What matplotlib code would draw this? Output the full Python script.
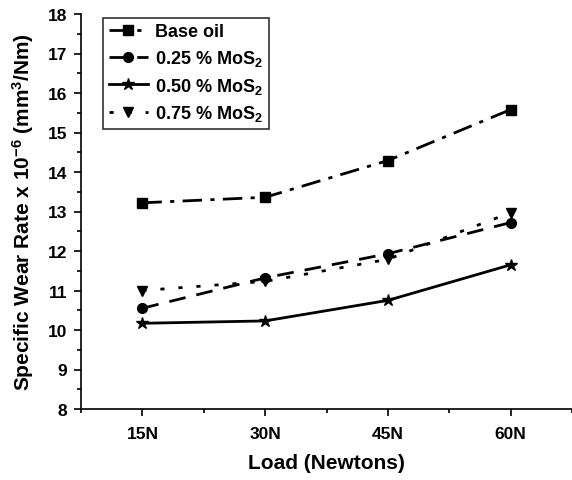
import numpy as np
import matplotlib
matplotlib.use('Agg')
import matplotlib.pyplot as plt
from matplotlib.ticker import MultipleLocator, FixedLocator

plt.rcParams['font.family'] = ['Liberation Sans', 'DejaVu Sans']
plt.rcParams['font.weight'] = 'bold'
plt.rcParams['mathtext.fontset'] = 'custom'
plt.rcParams['mathtext.rm'] = 'Liberation Sans:bold'
plt.rcParams['mathtext.bf'] = 'Liberation Sans:bold'
plt.rcParams['mathtext.it'] = 'Liberation Sans:bold'
plt.rcParams['mathtext.default'] = 'bf'

loads = ['15N', '30N', '45N', '60N']
base_oil = [13.22, 13.36, 14.29, 15.58]
mos2_025 = [10.55, 11.32, 11.93, 12.72]
mos2_050 = [10.17, 10.23, 10.75, 11.65]
mos2_075 = [11.00, 11.23, 11.79, 12.97]
y_ticks = list(range(8, 19))

x = np.arange(1, len(loads) + 1)

fig = plt.figure(figsize=(5.72, 4.81), dpi=100)
ax = fig.add_axes([81 / 572, 1 - 410 / 481, 1 - 81 / 572, (410 - 15) / 481])

ax.plot(x, base_oil, color='black', lw=2, ls=(0, (7, 3, 1.5, 3)), marker='s', ms=7,
        label='Base oil')
ax.plot(x, mos2_025, color='black', lw=2, ls=(0, (6, 4)), marker='o', ms=7,
        label='0.25 % MoS$_2$')
ax.plot(x, mos2_050, color='black', lw=2, ls='-', marker='*', ms=9,
        label='0.50 % MoS$_2$')
ax.plot(x, mos2_075, color='black', lw=2, ls=(0, (1.5, 5)), marker='v', ms=7,
        label='0.75 % MoS$_2$')

ax.set_xlim(0.5, 4.5)
ax.set_ylim(8, 18)
ax.set_xticks(x)
ax.set_xticklabels(loads, fontweight='bold')
ax.xaxis.set_minor_locator(FixedLocator([0.5, 1.5, 2.5, 3.5, 4.5]))
ax.set_yticks(y_ticks)
ax.set_yticklabels([str(v) for v in y_ticks], fontweight='bold')
ax.yaxis.set_minor_locator(MultipleLocator(0.5))

ax.spines['top'].set_visible(False)
ax.spines['right'].set_visible(False)
for s in ('left', 'bottom'):
    ax.spines[s].set_linewidth(1.2)
ax.tick_params(which='major', direction='out', length=5, width=1.2, labelsize=12.5)
ax.tick_params(axis='x', which='major', pad=7)
ax.tick_params(axis='y', which='major', pad=5)
ax.tick_params(which='minor', direction='out', length=3, width=1.2)

ax.set_xlabel('Load (Newtons)', fontsize=15, fontweight='bold', labelpad=9)
ax.set_ylabel('Specific Wear Rate x 10$^{-6}$ (mm$^3$/Nm)',
              fontsize=15, fontweight='bold', labelpad=8)

leg = ax.legend(loc='upper left', bbox_to_anchor=(0.045, 0.99),
                frameon=True, fancybox=False, edgecolor='black', handlelength=2.2,
                handletextpad=0.4, borderpad=0.3, labelspacing=0.42, borderaxespad=0,
                prop={'weight': 'bold', 'size': 13})
leg.get_frame().set_linewidth(1.2)
for t in leg.get_texts():
    t.set_fontweight('bold')

fig.savefig('out.png', dpi=100)
